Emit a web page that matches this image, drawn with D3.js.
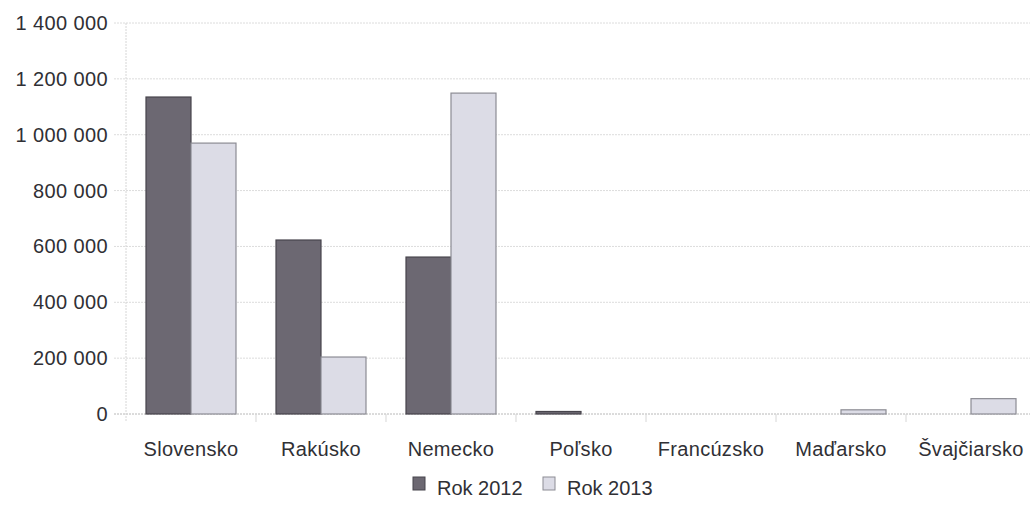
<!DOCTYPE html>
<meta charset="utf-8">
<body style="margin:0;background:#fff">
<svg width="1030" height="507" font-family="Liberation Sans, Arial, sans-serif"></svg>
</body>
<script src="https://cdn.jsdelivr.net/npm/d3@7"></script>
<script>

var categories = ["Slovensko", "Rakúsko", "Nemecko", "Poľsko", "Francúzsko", "Maďarsko", "Švajčiarsko"];
var rok2012 = [1135000, 623000, 562000, 9000, 0, 0, 0];
var rok2013 = [970000, 204000, 1149000, 0, 0, 15000, 55000];
var seriesNames = ["Rok 2012", "Rok 2013"];
var yTicks = [0, 200000, 400000, 600000, 800000, 1000000, 1200000, 1400000];

var svg = d3.select("svg");

var fills = ["#6c6872", "#dcdce6"],
    strokes = ["#47444c", "#8c8c94"];

var x0 = d3.scaleBand()
    .domain(categories)
    .range([126, 1036])
    .paddingInner(0.3077)
    .paddingOuter(0.1538);

var x1 = d3.scaleBand()
    .domain(seriesNames)
    .range([0, x0.bandwidth()]);

var y = d3.scaleLinear()
    .domain([0, 1400000])
    .range([414, 23]);

var fmt = function(d) { return d3.format(",d")(d).replace(/,/g, " "); };

// horizontal grid
svg.append("g")
    .selectAll("line")
    .data(yTicks)
    .enter().append("line")
      .attr("x1", 114)
      .attr("x2", 1036)
      .attr("y1", function(d) { return y(d); })
      .attr("y2", function(d) { return y(d); })
      .attr("stroke", function(d) { return d === 0 ? "#b8b8b8" : "#dcdcdc"; })
      .attr("stroke-dasharray", "2,1");

// left axis line + category ticks
svg.append("line")
    .attr("x1", 126).attr("x2", 126)
    .attr("y1", y(1400000)).attr("y2", y(0) + 8)
    .attr("stroke", "#d6d6d6")
    .attr("stroke-dasharray", "2,1");

svg.append("g")
    .selectAll("line")
    .data(categories.slice(1))
    .enter().append("line")
      .attr("x1", function(d) { return x0(d) - x0.step() * x0.paddingInner() / 2; })
      .attr("x2", function(d) { return x0(d) - x0.step() * x0.paddingInner() / 2; })
      .attr("y1", y(0))
      .attr("y2", y(0) + 8)
      .attr("stroke", "#d6d6d6");

// y labels
svg.append("g")
    .selectAll("text")
    .data(yTicks)
    .enter().append("text")
      .attr("x", 108)
      .attr("y", function(d) { return y(d); })
      .attr("dy", "0.35em")
      .attr("text-anchor", "end")
      .attr("font-size", 20)
      .attr("letter-spacing", 0.4)
      .attr("fill", "#303035")
      .text(fmt);

// bars
var groups = svg.append("g")
    .selectAll("g")
    .data(categories)
    .enter().append("g")
      .attr("transform", function(d) { return "translate(" + x0(d) + ",0)"; });

groups.selectAll("rect")
    .data(function(d, i) { return [rok2012[i], rok2013[i]].map(function(v, k) { return {k: k, v: v}; }); })
    .enter().filter(function(d) { return d.v > 0; }).append("rect")
      .attr("x", function(d) { return x1(seriesNames[d.k]); })
      .attr("width", x1.bandwidth())
      .attr("y", function(d) { return y(d.v); })
      .attr("height", function(d) { return y(0) - y(d.v); })
      .attr("fill", function(d) { return fills[d.k]; })
      .attr("stroke", function(d) { return strokes[d.k]; })
      .attr("stroke-width", 1.2);

// category labels
svg.append("g")
    .selectAll("text")
    .data(categories)
    .enter().append("text")
      .attr("x", function(d) { return x0(d) + x0.bandwidth() / 2; })
      .attr("y", 456)
      .attr("text-anchor", "middle")
      .attr("font-size", 20)
      .attr("letter-spacing", 0.3)
      .attr("fill", "#303035")
      .text(function(d) { return d; });

// legend
var legend = svg.append("g")
    .selectAll("g")
    .data(seriesNames)
    .enter().append("g")
      .attr("transform", function(d, i) { return "translate(" + (413 + i * 130) + ",477)"; });

legend.append("rect")
    .attr("width", 12)
    .attr("height", 13)
    .attr("fill", function(d, i) { return fills[i]; })
    .attr("stroke", function(d, i) { return strokes[i]; });

legend.append("text")
    .attr("x", 24)
    .attr("y", 18)
    .attr("font-size", 20)
    .attr("fill", "#303035")
    .text(function(d) { return d; });

</script>
